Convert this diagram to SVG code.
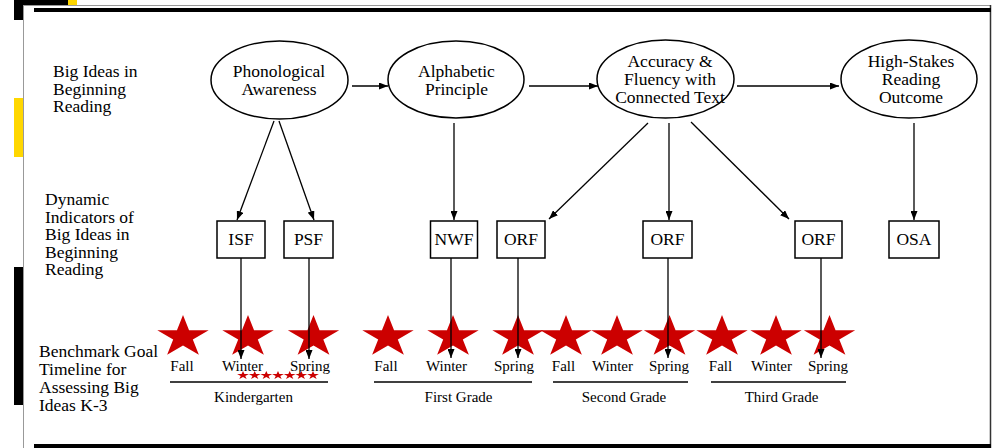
<svg xmlns="http://www.w3.org/2000/svg" xmlns:xlink="http://www.w3.org/1999/xlink" width="993" height="448" viewBox="0 0 993 448">
<style>
text{font-family:"Liberation Serif","Times New Roman",serif;fill:#000}
.lbl{font-size:17.5px}
.c{text-anchor:middle}
.season{font-size:15px;text-anchor:middle}
.grade{font-size:15px;text-anchor:middle}
.node ellipse,.node rect{fill:#fff;stroke:#000;stroke-width:1.5}
.conn line{stroke:#000;stroke-width:1.3;fill:none}
.arr{marker-end:url(#ah)}
.star{fill:#cc0000}
.tl{stroke:#000;stroke-width:1.5}
</style>
<defs>
<marker id="ah" markerUnits="userSpaceOnUse" markerWidth="9" markerHeight="7" refX="9" refY="3.5" orient="auto">
<path d="M0,0 L9,3.5 L0,7 Z" fill="#000"/>
</marker>
<path id="star" d="M0,-22 L6.06,-6.8 L25.68,-6.8 L9.81,2.6 L15.87,17.8 L0,8.4 L-15.87,17.8 L-9.81,2.6 L-25.68,-6.8 L-6.06,-6.8 Z"/>
</defs>

<!-- slide background pieces -->
<rect x="0" y="0" width="993" height="448" fill="#fff"/>
<rect x="14" y="0" width="54" height="20" fill="#000"/>
<rect x="68" y="0" width="9" height="5" fill="#ffd700"/>
<rect x="14" y="98" width="9" height="59" fill="#ffd700"/>
<rect x="14" y="267" width="9" height="138" fill="#000"/>
<rect x="23.5" y="5.5" width="967" height="450" fill="#fff" stroke="#999" stroke-width="1"/>
<line x1="990.5" y1="5" x2="990.5" y2="448" stroke="#333" stroke-width="1.5"/>
<line x1="34" y1="10" x2="991" y2="10" stroke="#000" stroke-width="4"/>
<line x1="34" y1="446" x2="991" y2="446" stroke="#000" stroke-width="4"/>

<!-- row labels -->
<g id="label-big-ideas">
<text class="lbl" x="53" y="77">Big Ideas in</text>
<text class="lbl" x="53" y="94.5">Beginning</text>
<text class="lbl" x="53" y="112">Reading</text>
</g>
<g id="label-indicators">
<text class="lbl" x="45" y="205">Dynamic</text>
<text class="lbl" x="45" y="222.5">Indicators of</text>
<text class="lbl" x="45" y="240">Big Ideas in</text>
<text class="lbl" x="45" y="257.5">Beginning</text>
<text class="lbl" x="45" y="275">Reading</text>
</g>
<g id="label-benchmark">
<text class="lbl" x="39" y="357">Benchmark Goal</text>
<text class="lbl" x="39" y="375">Timeline for</text>
<text class="lbl" x="39" y="393">Assessing Big</text>
<text class="lbl" x="39" y="411">Ideas K-3</text>
</g>

<!-- big idea nodes -->
<g id="phonological" class="node">
<ellipse cx="279.5" cy="80" rx="68.5" ry="39"/>
<text class="lbl c" x="279" y="77">Phonological</text>
<text class="lbl c" x="279" y="94.5">Awareness</text>
</g>
<g id="alphabetic" class="node">
<ellipse cx="456" cy="79.5" rx="68" ry="38.5"/>
<text class="lbl c" x="456.5" y="77">Alphabetic</text>
<text class="lbl c" x="456.5" y="94.5">Principle</text>
</g>
<g id="accuracy" class="node">
<ellipse cx="665.5" cy="79" rx="68.5" ry="39"/>
<text class="lbl c" x="670" y="67">Accuracy &amp;</text>
<text class="lbl c" x="670" y="85">Fluency with</text>
<text class="lbl c" x="670" y="103">Connected Text</text>
</g>
<g id="highstakes" class="node">
<ellipse cx="909" cy="79" rx="68" ry="39"/>
<text class="lbl c" x="911" y="67">High-Stakes</text>
<text class="lbl c" x="911" y="85">Reading</text>
<text class="lbl c" x="911" y="103">Outcome</text>
</g>

<!-- indicator nodes -->
<g id="isf" class="node"><rect x="217" y="221" width="48" height="37"/><text class="lbl c" x="241" y="245">ISF</text></g>
<g id="psf" class="node"><rect x="284" y="221" width="49" height="37"/><text class="lbl c" x="308.5" y="245">PSF</text></g>
<g id="nwf" class="node"><rect x="430.5" y="221" width="47" height="37"/><text class="lbl c" x="454" y="245">NWF</text></g>
<g id="orf1" class="node"><rect x="497" y="221" width="48" height="37"/><text class="lbl c" x="521" y="245">ORF</text></g>
<g id="orf2" class="node"><rect x="643" y="221" width="49" height="37"/><text class="lbl c" x="667.5" y="245">ORF</text></g>
<g id="orf3" class="node"><rect x="795" y="221" width="47" height="37"/><text class="lbl c" x="818.5" y="245">ORF</text></g>
<g id="osa" class="node"><rect x="889" y="221" width="50" height="37"/><text class="lbl c" x="914" y="245">OSA</text></g>

<!-- benchmark stars -->
<g id="benchmark-stars" class="star">
<use xlink:href="#star" transform="translate(183,337)"/>
<use xlink:href="#star" transform="translate(248,337)"/>
<use xlink:href="#star" transform="translate(313.5,337)"/>
<use xlink:href="#star" transform="translate(388,337)"/>
<use xlink:href="#star" transform="translate(453,337)"/>
<use xlink:href="#star" transform="translate(518,337)"/>
<use xlink:href="#star" transform="translate(566,337)"/>
<use xlink:href="#star" transform="translate(617,337)"/>
<use xlink:href="#star" transform="translate(669.5,337)"/>
<use xlink:href="#star" transform="translate(722,337)"/>
<use xlink:href="#star" transform="translate(776,337)"/>
<use xlink:href="#star" transform="translate(829.5,337)"/>
</g>

<!-- timeline -->
<g id="kindergarten">
<text class="season" x="182" y="371">Fall</text>
<text class="season" x="242.5" y="371">Winter</text>
<text class="season" x="310" y="371">Spring</text>
<line class="tl" x1="170" y1="382" x2="328" y2="382"/>
<text class="grade" x="253.5" y="402">Kindergarten</text>
</g>
<g id="first-grade">
<text class="season" x="386" y="371">Fall</text>
<text class="season" x="446.5" y="371">Winter</text>
<text class="season" x="514" y="371">Spring</text>
<line class="tl" x1="374" y1="382" x2="532" y2="382"/>
<text class="grade" x="458.5" y="402">First Grade</text>
</g>
<g id="second-grade">
<text class="season" x="563.5" y="371">Fall</text>
<text class="season" x="612.5" y="371">Winter</text>
<text class="season" x="669" y="371">Spring</text>
<line class="tl" x1="553" y1="382" x2="688" y2="382"/>
<text class="grade" x="624" y="402">Second Grade</text>
</g>
<g id="third-grade">
<text class="season" x="720.5" y="371">Fall</text>
<text class="season" x="771.5" y="371">Winter</text>
<text class="season" x="828" y="371">Spring</text>
<line class="tl" x1="711" y1="382" x2="846" y2="382"/>
<text class="grade" x="781.5" y="402">Third Grade</text>
</g>

<g id="small-stars" class="star">
<use xlink:href="#star" transform="translate(243,375.4) scale(0.23,0.2)"/>
<use xlink:href="#star" transform="translate(254.7,375.4) scale(0.23,0.2)"/>
<use xlink:href="#star" transform="translate(266.3,375.4) scale(0.23,0.2)"/>
<use xlink:href="#star" transform="translate(278,375.4) scale(0.23,0.2)"/>
<use xlink:href="#star" transform="translate(289.7,375.4) scale(0.23,0.2)"/>
<use xlink:href="#star" transform="translate(301.3,375.4) scale(0.23,0.2)"/>
<use xlink:href="#star" transform="translate(313,375.4) scale(0.23,0.2)"/>
</g>

<!-- connectors -->
<g id="connectors" class="conn">
<line class="arr" x1="352" y1="86" x2="388" y2="86"/>
<line class="arr" x1="529" y1="86" x2="598" y2="86"/>
<line class="arr" x1="737" y1="86" x2="839" y2="86"/>
<line class="arr" x1="274" y1="121" x2="237" y2="220"/>
<line class="arr" x1="279" y1="121" x2="314" y2="220"/>
<line class="arr" x1="454" y1="123" x2="454" y2="220"/>
<line class="arr" x1="648" y1="123" x2="549" y2="219"/>
<line class="arr" x1="669" y1="123" x2="669" y2="220"/>
<line class="arr" x1="691" y1="122" x2="789" y2="219"/>
<line class="arr" x1="914" y1="123" x2="914" y2="220"/>
<line class="arr" x1="241" y1="258" x2="241" y2="359"/>
<line class="arr" x1="309" y1="258" x2="309" y2="359"/>
<line class="arr" x1="451" y1="258" x2="451" y2="358"/>
<line class="arr" x1="518" y1="258" x2="518" y2="358"/>
<line class="arr" x1="668" y1="258" x2="668" y2="358"/>
<line class="arr" x1="821" y1="258" x2="821" y2="358"/>
</g>
</svg>
